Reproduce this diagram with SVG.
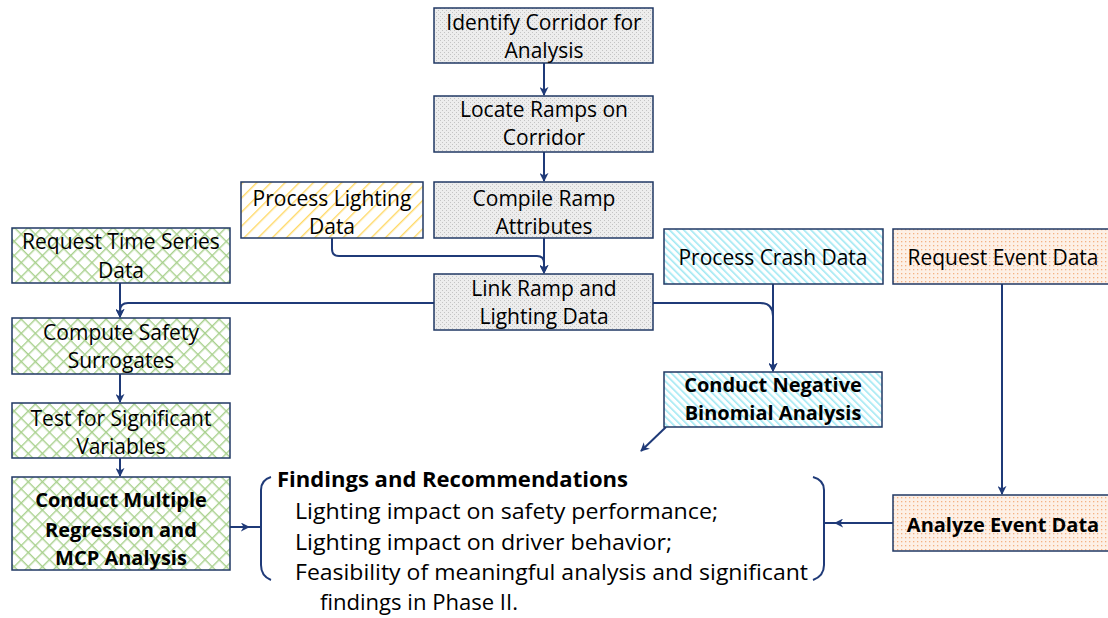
<svg xmlns="http://www.w3.org/2000/svg" width="1108" height="618" viewBox="0 0 1108 618">
<defs>
<pattern id="pGray" width="4" height="4" patternUnits="userSpaceOnUse">
<rect width="4" height="4" fill="#EDEDED"/>
<rect x="0" y="0" width="1" height="1" fill="#C4C4C4"/>
<rect x="2" y="2" width="1" height="1" fill="#C4C4C4"/>
</pattern>
<pattern id="pYellow" width="10" height="10" patternUnits="userSpaceOnUse" patternTransform="rotate(45)">
<rect width="10" height="10" fill="#FFFFFF"/>
<rect x="0" y="0" width="1.4" height="10" fill="#FFD966"/>
</pattern>
<pattern id="pGreen" width="10" height="10" patternUnits="userSpaceOnUse" patternTransform="rotate(45)">
<rect width="10" height="10" fill="#FFFFFF"/>
<rect x="0" y="0" width="1.4" height="10" fill="#A9D18E"/>
<rect x="0" y="0" width="10" height="1.4" fill="#A9D18E"/>
</pattern>
<pattern id="pCyan" width="5" height="5" patternUnits="userSpaceOnUse" patternTransform="rotate(-45)">
<rect width="5" height="5" fill="#FFFFFF"/>
<rect x="0" y="0" width="1.6" height="5" fill="#A0E8F3"/>
</pattern>
<pattern id="pOrange" width="4" height="4" patternUnits="userSpaceOnUse">
<rect width="4" height="4" fill="#FDF0E6"/>
<rect x="1" y="1" width="1.3" height="1.3" fill="#F4B183"/>
</pattern>
<marker id="arr" viewBox="0 0 10 10" refX="9" refY="5" markerWidth="9" markerHeight="9" markerUnits="userSpaceOnUse" orient="auto">
<path d="M0,0 L10,5 L0,10 L3,5 Z" fill="#1F3A78"/>
</marker>
</defs>
<style>
.box{stroke:#203864;stroke-width:1.5}
.gray{fill:url(#pGray)}
.yellow{fill:url(#pYellow)}
.green{fill:url(#pGreen)}
.cyan{fill:url(#pCyan)}
.orange{fill:url(#pOrange)}
text{font-family:"Open Sans","Noto Sans","Liberation Sans",sans-serif;font-size:21px;fill:#000}
.c{text-anchor:middle}
.b{font-weight:bold;font-size:20px}
.f{font-size:21px}
.con{fill:none;stroke:#1F3A78;stroke-width:2}
</style>

<g id="connectors">
<path class="con" d="M544,63 L544,95" marker-end="url(#arr)"/>
<path class="con" d="M544,152 L544,181" marker-end="url(#arr)"/>
<path class="con" d="M544,238 L544,273" marker-end="url(#arr)"/>
<path class="con" d="M332,238 L332,249 Q332,256 339,256 L537,256 Q544,256 544,263 L544,273" marker-end="url(#arr)"/>
<path class="con" d="M120,283 L120,317" marker-end="url(#arr)"/>
<path class="con" d="M434,303 L128,303 Q120,303 120,311 L120,317" marker-end="url(#arr)"/>
<path class="con" d="M653,303 L760,303 Q773,303 773,316 L773,371" marker-end="url(#arr)"/>
<path class="con" d="M773,284 L773,371" marker-end="url(#arr)"/>
<path class="con" d="M666,427 L641,451" marker-end="url(#arr)"/>
<path class="con" d="M120,374 L120,402" marker-end="url(#arr)"/>
<path class="con" d="M120,458 L120,476" marker-end="url(#arr)"/>
<path class="con" d="M230,527 L249,527" marker-end="url(#arr)"/>
<path class="con" d="M247,527 L261,527"/>
<path class="con" d="M1002,284 L1002,494" marker-end="url(#arr)"/>
<path class="con" d="M893,523 L835,523" marker-end="url(#arr)"/>
<path class="con" d="M837,523 L824,523"/>
</g>

<g id="n1"><rect class="box gray" x="434" y="8" width="219" height="55"/>
<text class="c" x="544" y="30">Identify Corridor for</text><text class="c" x="544" y="58">Analysis</text></g>

<g id="n2"><rect class="box gray" x="434" y="96" width="219" height="56"/>
<text class="c" x="544" y="117">Locate Ramps on</text><text class="c" x="544" y="145">Corridor</text></g>

<g id="n3"><rect class="box gray" x="434" y="182" width="219" height="56"/>
<text class="c" x="544" y="206">Compile Ramp</text><text class="c" x="544" y="234">Attributes</text></g>

<g id="n4"><rect class="box yellow" x="241" y="182" width="182" height="56"/>
<text class="c" x="332" y="206">Process Lighting</text><text class="c" x="332" y="234">Data</text></g>

<g id="n5"><rect class="box gray" x="434" y="274" width="219" height="56"/>
<text class="c" x="544" y="296">Link Ramp and</text><text class="c" x="544" y="324">Lighting Data</text></g>

<g id="n6"><rect class="box green" x="12" y="228" width="218" height="55"/>
<text class="c" x="121" y="249">Request Time Series</text><text class="c" x="121" y="278">Data</text></g>

<g id="n7"><rect class="box green" x="12" y="318" width="218" height="56"/>
<text class="c" x="121" y="340">Compute Safety</text><text class="c" x="121" y="368">Surrogates</text></g>

<g id="n8"><rect class="box green" x="12" y="403" width="218" height="55"/>
<text class="c" x="121" y="426">Test for Significant</text><text class="c" x="121" y="454">Variables</text></g>

<g id="n9"><rect class="box green" x="12" y="477" width="218" height="93"/>
<text class="c b" x="121" y="507">Conduct Multiple</text><text class="c b" x="121" y="537">Regression and</text><text class="c b" x="121" y="565">MCP Analysis</text></g>

<g id="n10"><rect class="box cyan" x="664" y="229" width="219" height="55"/>
<text class="c" x="773" y="265">Process Crash Data</text></g>

<g id="n11"><rect class="box orange" x="893" y="229" width="220" height="55"/>
<text class="c" x="1003" y="265">Request Event Data</text></g>

<g id="n12"><rect class="box cyan" x="664" y="372" width="218" height="55"/>
<text class="c b" x="773" y="392">Conduct Negative</text><text class="c b" x="773" y="420">Binomial Analysis</text></g>

<g id="n13"><rect class="box orange" x="893" y="495" width="220" height="56"/>
<text class="c b" x="1003" y="532">Analyze Event Data</text></g>

<g id="n14">
<path class="con" d="M271,477 Q261,480 261,490 L261,565 Q261,576 271,580"/>
<path class="con" d="M813,477 Q824,480 824,490 L824,565 Q824,576 813,580"/>
<text class="b f" x="277" y="487" textLength="351" lengthAdjust="spacingAndGlyphs">Findings and Recommendations</text>
<text class="f" x="295" y="519" textLength="423" lengthAdjust="spacingAndGlyphs">Lighting impact on safety performance;</text>
<text class="f" x="295" y="550" textLength="377" lengthAdjust="spacingAndGlyphs">Lighting impact on driver behavior;</text>
<text class="f" x="295" y="580" textLength="513" lengthAdjust="spacingAndGlyphs">Feasibility of meaningful analysis and significant</text>
<text class="f" x="320" y="610" textLength="198" lengthAdjust="spacingAndGlyphs">findings in Phase II.</text>
</g>
</svg>
